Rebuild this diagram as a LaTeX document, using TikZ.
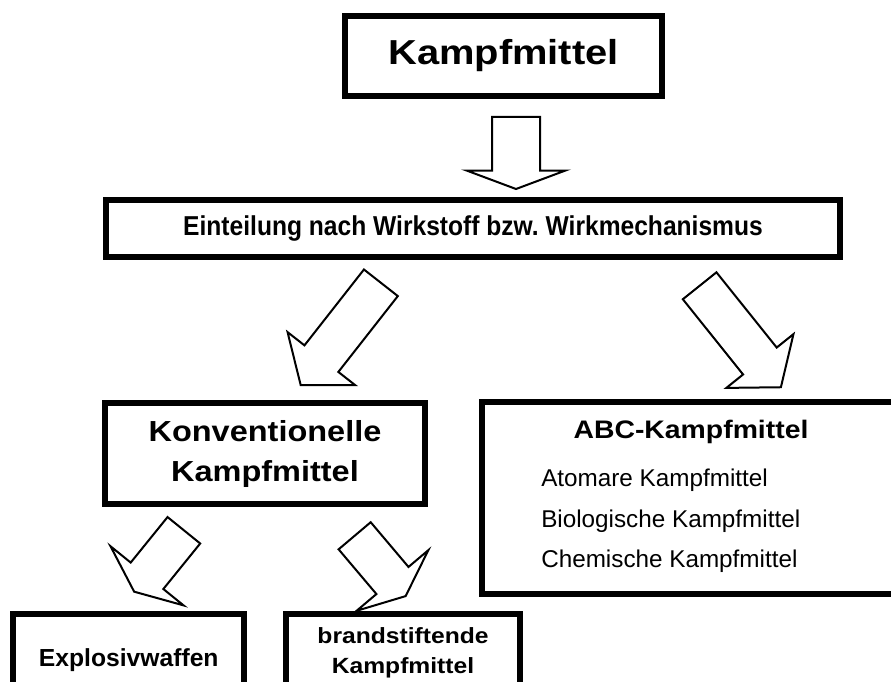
\documentclass[tikz,border=0pt]{standalone}
\usepackage{fontspec}
\setmainfont{Liberation Sans}
\newfontfamily\titlefont[FakeStretch=1.15]{Liberation Sans}
\newfontfamily\boxfont[FakeStretch=1.12]{Liberation Sans}
\newfontfamily\narrowfont[FakeStretch=0.9]{Liberation Sans}
\usetikzlibrary{shapes.arrows,calc}
\begin{document}
\begin{tikzpicture}[x=0.75pt,y=-0.75pt]
        \tikzstyle{box}=[rectangle,draw,line width=4.5pt,fill=white,inner sep=0pt,align=center]
        \tikzstyle{block arrow}=[single arrow,draw,line width=1.5pt,fill=white,inner xsep=0pt,minimum width=0pt,anchor=tail]
        \tikzstyle{down arrow}=[block arrow,inner ysep=17.25pt,single arrow head extend=19.1pt,minimum height=54pt,single arrow tip angle=139]
        \tikzstyle{big arrow}=[block arrow,inner ysep=15.4pt,single arrow head extend=16.1pt,minimum height=97.5pt,single arrow tip angle=104]
        \tikzstyle{small arrow}=[block arrow,inner ysep=15pt,single arrow head extend=19.5pt,minimum height=59.25pt,single arrow tip angle=133]
        \useasboundingbox (0,0) rectangle (891,681);

        % boxes
        \node(title)[box,minimum width=237.75pt,minimum height=60pt,font=\titlefont\bfseries\fontsize{26}{30}\selectfont] at (503.5,56) {Kampfmittel};
        \node(eint)[box,minimum width=550.5pt,minimum height=42.75pt,font=\narrowfont\bfseries\fontsize{20.5}{24}\selectfont] at (473,228.5) {Einteilung nach Wirkstoff bzw.\ Wirkmechanismus};
        \node(konv)[box,minimum width=240pt,minimum height=75.75pt,font=\boxfont\bfseries\fontsize{21.75}{30}\selectfont] at (265,453.5) {Konventionelle\\Kampfmittel};
        \node(abc)[box,minimum width=336pt,minimum height=144pt] at (706,498) {};
        \node(expl)[box,minimum width=172.9pt,minimum height=69.75pt,font=\bfseries\fontsize{18.5}{22}\selectfont] at (128.75,660) {Explosivwaffen};
        \node(brand)[box,minimum width=175.9pt,minimum height=58.5pt,font=\boxfont\bfseries\fontsize{16.5}{22.5}\selectfont] at (403,653) {brandstiftende\\Kampfmittel};

        % ABC contents
        \node(abchead)[anchor=base,font=\boxfont\bfseries\fontsize{19}{23}\selectfont] at (691,438) {ABC-Kampfmittel};
        \foreach \name/\y/\txt in {atom/486/Atomare Kampfmittel,bio/527/Biologische Kampfmittel,chem/567/Chemische Kampfmittel}
        \node(\name)[anchor=base west,inner sep=0pt,font=\fontsize{18.2}{22}\selectfont] at (541,\y) {\txt};

        % block arrows
        \node(a0)[down arrow,rotate=-90] at ($(title.south)+(12.5,17)$) {};
        \node(a1)[big arrow,rotate=231.9] at ($(eint.south)+(-91.5,22)$) {};
        \node(a2)[big arrow,rotate=-51.3] at ($(eint.south)+(226,25)$) {};
        \node(a3)[small arrow,rotate=231] at ($(konv.south)+(-80.5,22.5)$) {};
        \node(a4)[small arrow,rotate=-49.8] at ($(konv.south)+(89,28)$) {};
\end{tikzpicture}
\end{document}
